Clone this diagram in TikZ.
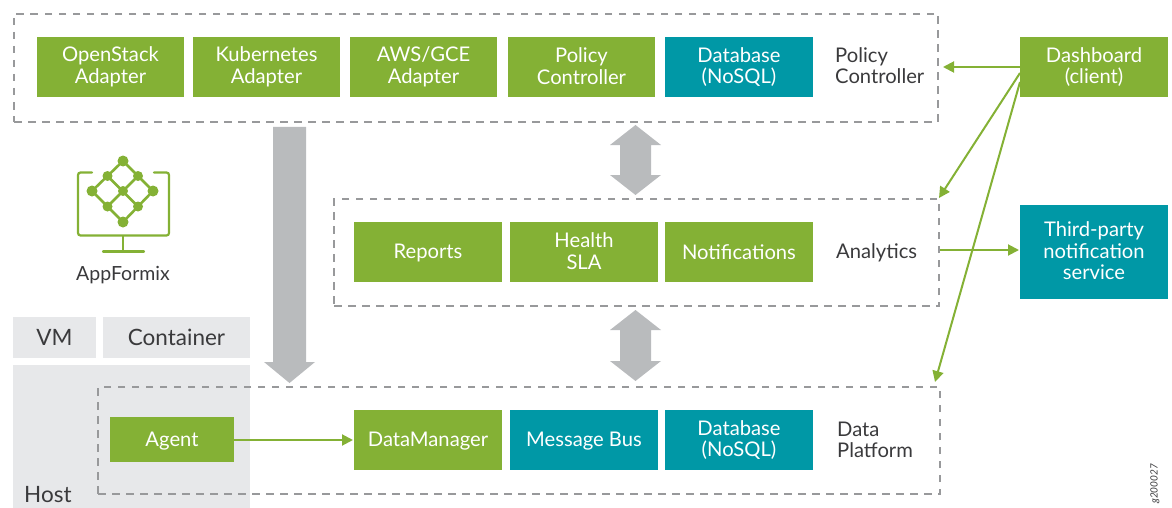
\documentclass[tikz,border=0pt]{standalone}
\usepackage{fontspec}
\setmainfont{Lato}
\usetikzlibrary{arrows.meta}
\definecolor{jgreen}{HTML}{84B135}
\definecolor{jteal}{HTML}{0098A6}
\definecolor{jgray}{HTML}{B9BBBD}
\definecolor{jlight}{HTML}{E7E8EA}
\definecolor{jdash}{HTML}{98999B}
\definecolor{jtext}{HTML}{3A3A3C}
\tikzset{
  x=1pt,y=-1pt,
  box/.style={anchor=north west,inner sep=0pt,outer sep=0pt,align=center,text=white,font=\fontsize{20.2}{21.5}\selectfont},
  greenbox/.style={box,fill=jgreen},
  tealbox/.style={box,fill=jteal},
  lightbox/.style={box,fill=jlight,text=jtext,font=\fontsize{22.5}{24}\selectfont},
  dashbox/.style={draw=jdash,line width=2pt,dash pattern=on 7.5pt off 6.5pt},
  lab/.style={align=left,anchor=west,inner sep=0pt,text=jtext,font=\fontsize{20.2}{21.5}\selectfont},
  link/.style={draw=jgreen,line width=2pt,-{Triangle[length=11pt,width=11pt]}},
  blockarrow/.style={fill=jgray,draw=none},
}
\newcommand{\gbox}[6][greenbox]{\node[#1,minimum width=#4pt,minimum height=#5pt] (#2) at #3 {#6};}
\newcommand{\upa}{\rule[-2pt]{0pt}{0pt}}
\newcommand{\dna}{\rule{0pt}{17pt}}
\begin{document}
\begin{tikzpicture}
\useasboundingbox (0,0) rectangle (1172,508);
% host
\node[lightbox,minimum width=83pt,minimum height=41pt] (vm) at (13,317) {VM};
\node[lightbox,minimum width=147pt,minimum height=41pt] (container) at (103,317) {Container};
\node[box,fill=jlight,minimum width=237pt,minimum height=143pt] (host) at (13,365) {};
\node[lab,font=\fontsize{22.5}{24}\selectfont] (hostlab) at (24,495) {Host};
% dashed groups
\node[dashbox,anchor=north west,inner sep=0pt,minimum width=924pt,minimum height=108pt] (pc) at (13,13) {};
\node[dashbox,anchor=north west,inner sep=0pt,minimum width=605pt,minimum height=107pt] (an) at (333,198) {};
\node[dashbox,anchor=north west,inner sep=0pt,minimum width=842pt,minimum height=107pt] (dp) at (97,386) {};
% top row
\gbox{os}{(37,37)}{147}{60}{OpenStack\\Adapter}
\gbox{k8s}{(193,37)}{147}{60}{Kubernetes\\Adapter}
\gbox{aws}{(350,37)}{147}{60}{AWS/GCE\\Adapter}
\gbox{pol}{(508,37)}{147}{60}{Policy\\Controller\upa}
\gbox[tealbox]{db1}{(665,37)}{148}{60}{Database\\(NoSQL)}
\node[lab] (pclab) at (835,65.5) {Policy\\Controller};
% analytics
\gbox{rep}{(354,222)}{148}{60}{\dna Reports}
\gbox{hsla}{(510,222)}{148}{60}{Health\\SLA\upa}
\gbox{notif}{(665,222)}{148}{60}{Notifications}
\node[lab] (anlab) at (836,252.5) {Analytics};
% data platform
\gbox{agent}{(110,417)}{124}{45}{\rule{0pt}{18pt}Agent}
\gbox{dm}{(354,410)}{148}{60}{\dna DataManager}
\gbox[tealbox]{mb}{(510,410)}{148}{60}{\dna Message Bus}
\gbox[tealbox]{db2}{(665,410)}{148}{60}{Database\\(NoSQL)}
\node[lab] (dplab) at (837,440) {Data\\Platform};
% right
\gbox{dash}{(1020,37)}{148}{60}{Dashboard\\(client)}
\gbox[tealbox]{tp}{(1020,205)}{148}{94}{Third-party\\notification\\service\upa}
% block arrows
\fill[blockarrow] (273,127) -- (306,127) -- (306,362) -- (315,362) -- (289.5,383) -- (264,362) -- (273,362) -- cycle;
\fill[blockarrow] (635.5,125) -- (661,145) -- (651,145) -- (651,175) -- (661,175) -- (635.5,195) -- (610,175) -- (620,175) -- (620,145) -- (610,145) -- cycle;
\fill[blockarrow] (635.5,310) -- (661,330) -- (651,330) -- (651,361) -- (661,361) -- (635.5,381) -- (610,361) -- (620,361) -- (620,330) -- (610,330) -- cycle;
% connectors
\coordinate (dashA) at (1020,67);
\coordinate (dashB) at (1020,73);
\coordinate (dashC) at (1020,82);
\coordinate (pcR) at (943,67);
\coordinate (anTR) at (939,198);
\coordinate (dpTR) at (935,382);
\coordinate (anR) at (940,250);
\coordinate (tpL) at (1019,250);
\coordinate (agentR) at (234,440);
\coordinate (dmL) at (353,440);
\draw[link] (dashA) -- (pcR);
\draw[link] (dashB) -- (anTR);
\draw[link] (dashC) -- (dpTR);
\draw[link] (anR) -- (tpL);
\draw[link] (agentR) -- (dmL);
% icon
\begin{scope}[jgreen]
\draw[line width=2.2pt,rounded corners=2.5pt,line cap=round] (92,172.5) -- (78,172.5) -- (78,235.5) -- (169,235.5) -- (169,172.5) -- (154,172.5);
\draw[line width=2.2pt] (123,235.5) -- (123,251);
\draw[line width=2.2pt,line cap=round] (103,251.5) -- (144,251.5);
\draw[line width=2.6pt] (123,161) -- (153,191) -- (123,222) -- (92,191) -- cycle;
\draw[line width=2.6pt] (107.5,176) -- (138,206.5) (138,176) -- (107.5,206.5);
\fill (123,161) circle (5.5pt) (92,191) circle (5.5pt) (153,191) circle (5.5pt) (123,222) circle (5.5pt) (123,191) circle (5pt) (107.5,176) circle (5pt) (138,176) circle (5pt) (107.5,206.5) circle (5pt) (138,206.5) circle (5pt);
\end{scope}
\node[text=jtext,inner sep=0pt,font=\fontsize{19.5}{21}\selectfont] (af) at (123,275.5) {AppFormix};
\node[rotate=90,text=jtext,inner sep=0pt,font=\fontsize{10}{12}\selectfont\itshape] (code) at (1155,484) {g200027};
\end{tikzpicture}
\end{document}
